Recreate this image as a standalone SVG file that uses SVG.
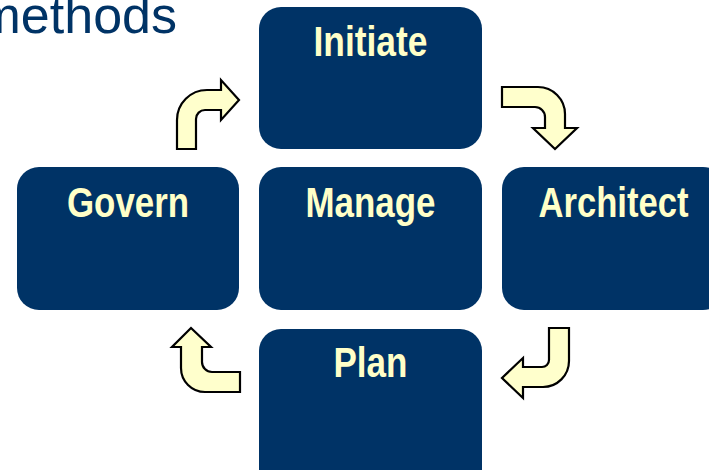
<svg xmlns="http://www.w3.org/2000/svg" width="709" height="470" viewBox="0 0 709 470">
<style>
.box{fill:#003366;}
.lbl{font-family:"Liberation Sans",Arial,sans-serif;font-weight:bold;font-size:42px;fill:#FFFFC8;text-anchor:middle;}
.arr{fill:#FFFFCC;stroke:#000;stroke-width:2.2;stroke-linejoin:miter;}
.title{font-family:"Liberation Sans",Arial,sans-serif;font-size:52px;fill:#003366;}
</style>
<rect width="709" height="470" fill="#FFFFFF"/>
<text class="title" x="177" y="33" text-anchor="end">methods</text>
<g id="initiate"><rect class="box" x="259" y="7" width="223" height="142" rx="22"/><text class="lbl" x="370.5" y="56" textLength="114" lengthAdjust="spacingAndGlyphs">Initiate</text></g>
<g id="govern"><rect class="box" x="17" y="167" width="222" height="143" rx="22"/><text class="lbl" x="128" y="217" textLength="122" lengthAdjust="spacingAndGlyphs">Govern</text></g>
<g id="manage"><rect class="box" x="259" y="167" width="223" height="143" rx="22"/><text class="lbl" x="370.5" y="217" textLength="130" lengthAdjust="spacingAndGlyphs">Manage</text></g>
<g id="architect"><rect class="box" x="502" y="167" width="223" height="143" rx="22"/><text class="lbl" x="613.5" y="217" textLength="150" lengthAdjust="spacingAndGlyphs">Architect</text></g>
<g id="plan"><rect class="box" x="259" y="329" width="223" height="165" rx="22"/><text class="lbl" x="370.5" y="377" textLength="74" lengthAdjust="spacingAndGlyphs">Plan</text></g>
<g id="connectors">
<path class="arr" d="M177,149 L177,120 A30,30 0 0 1 207,90 L221,90 L221,80 L239,100 L221,120 L221,110 L205,110 A9,9 0 0 0 196,119 L196,149 Z"/>
<path class="arr" d="M502,87 L538,87 A27,27 0 0 1 565,114 L565,128 L577,128 L555,149 L533,128 L545,128 L545,117 A10,10 0 0 0 535,107 L502,107 Z"/>
<path class="arr" d="M549,328 L569,328 L569,361 A26,26 0 0 1 543,387 L523,387 L523,398 L502,378 L523,358 L523,367 L542,367 A7,7 0 0 0 549,360 Z"/>
<path class="arr" d="M240,372 L240,392 L205,392 A24,24 0 0 1 181,368 L181,347 L172,347 L191,328 L211,347 L202,347 L202,362 A10,10 0 0 0 212,372 Z"/>
</g>
</svg>
